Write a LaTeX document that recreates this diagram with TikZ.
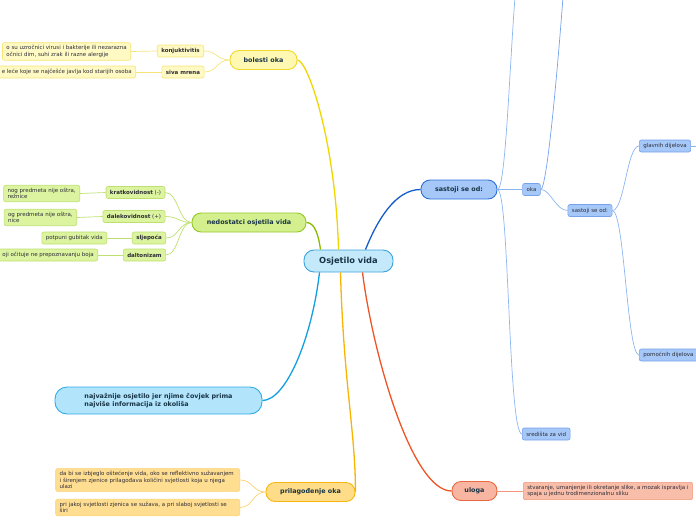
\documentclass[tikz,border=0pt]{standalone}
\usepackage{fontspec}
\setmainfont{DejaVu Sans}
\definecolor{rootfill}{RGB}{196,233,251}
\definecolor{rootline}{RGB}{58,162,220}
\definecolor{textmain}{RGB}{24,52,70}
\definecolor{textsub}{RGB}{45,45,55}
\definecolor{bluemain}{RGB}{22,92,200}
\definecolor{bluefill}{RGB}{166,200,248}
\definecolor{blueline}{RGB}{44,112,214}
\definecolor{bluesub}{RGB}{118,162,236}
\definecolor{bluethin}{RGB}{140,182,240}
\definecolor{yelmain}{RGB}{240,214,0}
\definecolor{yelfill}{RGB}{255,248,178}
\definecolor{yelline}{RGB}{240,216,48}
\definecolor{yelleaf}{RGB}{255,250,196}
\definecolor{yelsub}{RGB}{246,228,120}
\definecolor{grnmain}{RGB}{136,186,0}
\definecolor{grnfill}{RGB}{212,240,142}
\definecolor{grnline}{RGB}{148,198,40}
\definecolor{grnleaf}{RGB}{220,244,160}
\definecolor{grnsub}{RGB}{190,224,112}
\definecolor{cyanmain}{RGB}{18,160,224}
\definecolor{cyanfill}{RGB}{178,228,252}
\definecolor{cyanline}{RGB}{48,172,232}
\definecolor{orgmain}{RGB}{248,180,0}
\definecolor{orgfill}{RGB}{255,220,136}
\definecolor{orgline}{RGB}{246,184,16}
\definecolor{orgleaf}{RGB}{255,222,146}
\definecolor{orgsub}{RGB}{252,210,112}
\definecolor{redmain}{RGB}{238,84,36}
\definecolor{redfill}{RGB}{248,182,162}
\definecolor{redline}{RGB}{232,104,66}
\definecolor{redleaf}{RGB}{249,190,170}
\definecolor{redsub}{RGB}{242,150,122}

\tikzset{
  root/.style={draw=rootline, fill=rootfill, line width=0.9pt, rounded corners=10pt,
    minimum width=89pt, minimum height=22pt, inner sep=0pt, text=textmain,
    font=\fontsize{8.3}{10}\selectfont\bfseries},
  topic/.style={line width=0.9pt, rounded corners=9pt, minimum height=19pt,
    inner sep=0pt, text=textmain, font=\fontsize{6.4}{8.4}\selectfont\bfseries},
  sub/.style={line width=0.6pt, rounded corners=2pt, minimum height=12pt,
    inner xsep=4pt, inner ysep=0pt, text=textsub, font=\fontsize{5.5}{6.4}\selectfont},
  subbold/.style={sub, font=\fontsize{5.5}{6.4}\selectfont\bfseries},
  leaf/.style={sub, align=left, inner ysep=2.8pt},
  branch/.style={line width=1.3pt},
  twig/.style={line width=0.7pt},
}

\begin{document}
\begin{tikzpicture}[x=1pt, y=-1pt]
\useasboundingbox (0,0) rectangle (696,520);

% centre
\node[root] (vid) at (348.5,261) {Osjetilo vida};

% main topics
\node[topic, draw=blueline, fill=bluefill, minimum width=76pt] (sastoji) at (459,189.5) {sastoji se od:};
\node[topic, draw=yelline, fill=yelfill, minimum width=67pt] (bolesti) at (263.5,60) {bolesti oka};
\node[topic, draw=grnline, fill=grnfill, minimum width=114pt] (nedost) at (249,222.5) {nedostatci osjetila vida};
\node[topic, draw=cyanline, fill=cyanfill, minimum width=207pt, minimum height=27pt, align=left, rounded corners=12pt] (najv) at (158.5,400.5)
  {najvažnije osjetilo jer njime čovjek prima\\najviše informacija iz okoliša};
\node[topic, draw=orgline, fill=orgfill, minimum width=89pt] (prilag) at (310.5,492) {prilagođenje oka};
\node[topic, draw=redline, fill=redfill, minimum width=45pt] (uloga) at (474.5,491) {uloga};

% blue branch
\node[sub, draw=bluesub, fill=bluefill] (oka) at (531.5,189.5) {oka};
\node[sub, draw=bluesub, fill=bluefill] (sastojiB) at (590,210.5) {sastoji se od:};
\node[sub, draw=bluesub, fill=bluefill, anchor=west] (glavni) at (639,146) {glavnih dijelova};
\node[sub, draw=bluesub, fill=bluefill, anchor=west] (pomocni) at (639,355) {pomoćnih dijelova};
\node[sub, draw=bluesub, fill=bluefill, anchor=west] (sredista) at (522,434) {središta za vid};
\coordinate (gore1) at (515,-3);
\coordinate (gore2) at (563,-3);
\coordinate (desno) at (700,146);

% yellow branch
\node[subbold, draw=yelsub, fill=yelleaf] (konj) at (180.5,51) {konjuktivitis};
\node[subbold, draw=yelsub, fill=yelleaf] (siva) at (183,72) {siva mrena};
\node[leaf, draw=yelsub, fill=yelleaf, anchor=east] (konjtxt) at (131,51.5)
  {o su uzročnici virusi i bakterije ili nezarazna\\očnici dim, suhi zrak ili razne alergije};
\node[sub, draw=yelsub, fill=yelleaf, anchor=east] (sivatxt) at (136,72) {e leće koje se najčešće javlja kod starijih osoba};

% green branch
\node[sub, draw=grnsub, fill=grnleaf] (kratko) at (135.5,192.5) {\textbf{kratkovidnost} (-)};
\node[sub, draw=grnsub, fill=grnleaf] (daleko) at (134,216.5) {\textbf{dalekovidnost} (+)};
\node[subbold, draw=grnsub, fill=grnleaf] (sljep) at (149,238) {sljepoća};
\node[subbold, draw=grnsub, fill=grnleaf] (dalton) at (144.5,255) {daltonizam};
\node[leaf, draw=grnsub, fill=grnleaf, anchor=east] (kratkotxt) at (80,193.5) {nog predmeta nije oštra,\\režnice};
\node[leaf, draw=grnsub, fill=grnleaf, anchor=east] (dalektxt) at (77,217.5) {og predmeta nije oštra,\\nice};
\node[sub, draw=grnsub, fill=grnleaf, anchor=east] (potpuni) at (107,238) {potpuni gubitak vida};
\node[sub, draw=grnsub, fill=grnleaf, anchor=east] (dalttxt) at (98,255) {oji očituje ne prepoznavanju boja};

% orange branch
\node[leaf, draw=orgsub, fill=orgleaf, anchor=east, text width=176pt] (zjenica) at (240,480)
  {da bi se izbjeglo oštećenje vida, oko se reflektivno sužavanjem\\i širenjem zjenice prilagođava količini svjetlosti koja u njega\\ulazi};
\node[leaf, draw=orgsub, fill=orgleaf, anchor=east, text width=176pt] (svjetlo) at (240,507.5)
  {pri jakoj svjetlosti zjenica se sužava, a pri slaboj svjetlosti se\\širi};

% red branch
\node[leaf, draw=redsub, fill=redleaf, anchor=west] (slika) at (523,491)
  {stvaranje, umanjenje ili okretanje slike, a mozak ispravlja i\\spaja u jednu trodimenzionalnu sliku};

% main branches
\draw[branch, bluemain] ([xshift=17pt]vid.north) .. controls +(12,-30) and +(-25,0) .. (sastoji.west);
\draw[branch, yelmain] ([xshift=-10pt]vid.north) .. controls +(-3,-110) and +(10,0) .. (bolesti.east);
\draw[branch, grnmain] ([xshift=-28pt]vid.north) .. controls +(-2,-15) and +(8,0) .. (nedost.east);
\draw[branch, cyanmain] ([xshift=-29pt]vid.south) .. controls +(-8,68) and +(23,0) .. (najv.east);
\draw[branch, orgmain] ([xshift=-8pt]vid.south) .. controls +(3,110) and +(0,-60) .. (prilag.east);
\draw[branch, redmain] ([xshift=14pt]vid.south) .. controls +(10,80) and +(-40,0) .. (uloga.west);

% blue twigs
\draw[twig, bluethin] (sastoji.east) -- (oka.west);
\draw[twig, bluethin] (sastoji.east) .. controls +(8,0) and +(-6,80) .. (gore1);
\draw[twig, bluethin] (sastoji.east) .. controls +(12,0) and +(-14,0) .. (sredista.west);
\draw[twig, bluesub] (oka.east) .. controls +(6,0) and +(-6,80) .. (gore2);
\draw[twig, bluethin] (oka.east) .. controls +(10,0) and +(-12,0) .. (sastojiB.west);
\draw[twig, bluethin] (sastojiB.east) .. controls +(12,0) and +(-12,0) .. (glavni.west);
\draw[twig, bluethin] (sastojiB.east) .. controls +(12,0) and +(-12,0) .. (pomocni.west);
\draw[twig, bluethin] (glavni.east) -- (desno);

% yellow twigs
\draw[twig, yelsub] (bolesti.west) .. controls +(-13,0) and +(13,0) .. (konj.east);
\draw[twig, yelsub] (bolesti.west) .. controls +(-13,0) and +(13,0) .. (siva.east);
\draw[twig, yelsub] (konj.west) -- (konjtxt.east);
\draw[twig, yelsub] (siva.west) -- (sivatxt.east);

% green twigs
\foreach \n in {kratko, daleko, sljep, dalton}
  \draw[twig, grnsub] (nedost.west) .. controls +(-13,0) and +(13,0) .. (\n.east);
\draw[twig, grnsub] (kratko.west) -- (kratkotxt.east);
\draw[twig, grnsub] (daleko.west) -- (dalektxt.east);
\draw[twig, grnsub] (sljep.west) -- (potpuni.east);
\draw[twig, grnsub] (dalton.west) -- (dalttxt.east);

% orange twigs
\draw[twig, orgsub] (prilag.west) .. controls +(-13,0) and +(13,0) .. (zjenica.east);
\draw[twig, orgsub] (prilag.west) .. controls +(-13,0) and +(13,0) .. (svjetlo.east);

% red twig
\draw[twig, redsub] (uloga.east) -- (slika.west);
\end{tikzpicture}
\end{document}
